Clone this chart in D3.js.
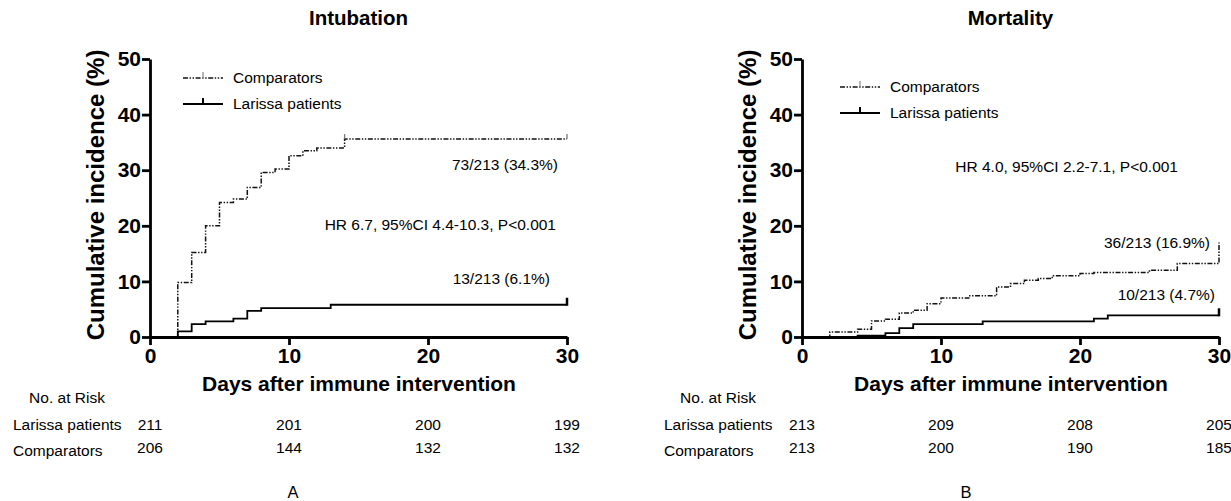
<!DOCTYPE html>
<html>
<head>
<meta charset="utf-8">
<script src="https://cdn.jsdelivr.net/npm/d3@7"></script>
<style>
  body { margin: 0; background: #fff; }
  svg { font-family: "Liberation Sans", Arial, sans-serif; }
</style>
</head>
<body>
<div id="chart"></div>
<script>
// ---- data ----
const xTicks = [0, 10, 20, 30];
const yTicks = [0, 10, 20, 30, 40, 50];
const seriesNames = ["Comparators", "Larissa patients"];

// [day, cumulative incidence %]
const intubComparators = [[0,0],[2,9.8],[3,15.2],[4,20.0],[5,24.2],[6,24.8],[7,26.9],[8,29.6],[9,30.2],[10,32.6],[11,33.5],[12,34.0],[14,35.6],[30,35.6]];
const intubLarissa = [[0,0],[2,1.0],[3,2.3],[4,2.8],[6,3.3],[7,4.7],[8,5.2],[13,5.8],[30,5.8]];
const mortComparators = [[0,0],[2,0.9],[4,1.4],[5,2.9],[6,3.2],[7,4.3],[8,4.8],[9,6.0],[10,7.0],[12,7.4],[14,9.0],[15,9.6],[16,10.2],[17,10.5],[18,11.0],[20,11.4],[21,11.6],[25,12.0],[27,13.2],[30,13.2],[30,17.0]];
const mortLarissa = [[0,0],[4,0.25],[6,0.7],[7,1.6],[8,2.3],[13,2.8],[21,3.3],[22,3.9],[30,3.9]];

// censor marks (days)
const intubComparatorsCensor = [14, 30];
const intubLarissaCensor = [30];
const mortComparatorsCensor = [];
const mortLarissaCensor = [30];

// numbers at risk at xTicks
const riskIntubLarissa = [211, 201, 200, 199];
const riskIntubComparators = [206, 144, 132, 132];
const riskMortLarissa = [213, 209, 208, 205];
const riskMortComparators = [213, 200, 190, 185];

const svg = d3.select("#chart").append("svg")
  .attr("width", 1231)
  .attr("height", 501);

const dashComp = "5,1.6,1.4,1.6,1.4,1.6";

function valueAt(data, day) {
  let v = 0;
  data.forEach(d => { if (d[0] <= day) v = d[1]; });
  return v;
}

function drawPanel(p) {
  const x = d3.scaleLinear().domain([0, 30]).range([p.x0, p.x0 + 417]);
  const y = d3.scaleLinear().domain([0, 50]).range([337, 59]);
  const g = svg.append("g");

  // title
  g.append("text")
    .attr("x", (p.x0 + p.x0 + 417) / 2).attr("y", 25)
    .attr("text-anchor", "middle")
    .attr("font-size", 20.5).attr("font-weight", "bold")
    .text(p.title);

  // curves
  const line = d3.line().x(d => x(d[0])).y(d => y(d[1])).curve(d3.curveStepAfter);
  g.append("path").datum(p.comp)
    .attr("d", line).attr("fill", "none")
    .attr("stroke", "#111").attr("stroke-width", 1.5)
    .attr("stroke-dasharray", dashComp);
  g.append("path").datum(p.lar)
    .attr("d", line).attr("fill", "none")
    .attr("stroke", "#000").attr("stroke-width", 1.8);

  // censor ticks
  p.compCensor.forEach(d => {
    g.append("line")
      .attr("x1", x(d)).attr("x2", x(d))
      .attr("y1", y(valueAt(p.comp, d))).attr("y2", y(valueAt(p.comp, d)) - 5)
      .attr("stroke", "#777").attr("stroke-width", 1.3);
  });
  p.larCensor.forEach(d => {
    g.append("line")
      .attr("x1", x(d)).attr("x2", x(d))
      .attr("y1", y(valueAt(p.lar, d)) + 1).attr("y2", y(valueAt(p.lar, d)) - 7)
      .attr("stroke", "#000").attr("stroke-width", 2.5);
  });

  // axes
  const yAxis = g.append("g")
    .attr("transform", `translate(${p.x0},0)`)
    .call(d3.axisLeft(y).tickValues(yTicks).tickSize(8).tickSizeOuter(0).tickPadding(1));
  const xAxis = g.append("g")
    .attr("transform", "translate(0,337)")
    .call(d3.axisBottom(x).tickValues(xTicks).tickSize(8).tickSizeOuter(0).tickPadding(3));
  [yAxis, xAxis].forEach(a => {
    a.select(".domain").attr("stroke-width", 2.8).attr("stroke", "#000");
    a.selectAll(".tick line").attr("stroke-width", 2.8).attr("stroke", "#000");
    a.selectAll(".tick text")
      .attr("font-size", 21).attr("font-weight", "bold")
      .attr("font-family", "Liberation Sans, Arial, sans-serif").attr("fill", "#000");
  });

  // axis titles
  g.append("text")
    .attr("transform", `translate(${p.x0 - 46},195) rotate(-90)`)
    .attr("text-anchor", "middle")
    .attr("font-size", 24).attr("font-weight", "bold")
    .text("Cumulative incidence (%)");
  g.append("text")
    .attr("x", p.x0 + 209).attr("y", 391)
    .attr("text-anchor", "middle")
    .attr("font-size", 21).attr("font-weight", "bold")
    .text("Days after immune intervention");

  // legend
  const lg = g.append("g").attr("transform", `translate(${p.legX},${p.legY})`);
  seriesNames.forEach((name, i) => {
    const yy = i * 26;
    lg.append("line")
      .attr("x1", 0).attr("x2", 40).attr("y1", yy).attr("y2", yy)
      .attr("stroke", i === 0 ? "#111" : "#000")
      .attr("stroke-width", i === 0 ? 1.5 : 1.8)
      .attr("stroke-dasharray", i === 0 ? dashComp : null);
    lg.append("line")
      .attr("x1", 20).attr("x2", 20).attr("y1", yy).attr("y2", yy - 6)
      .attr("stroke", i === 0 ? "#888" : "#000")
      .attr("stroke-width", i === 0 ? 1.2 : 2);
    lg.append("text")
      .attr("x", 50).attr("y", yy + 5)
      .attr("font-size", 15.5)
      .text(name);
  });

  // annotations
  p.notes.forEach(n => {
    g.append("text")
      .attr("x", n[1]).attr("y", n[2])
      .attr("text-anchor", "end")
      .attr("font-size", 15.5)
      .text(n[0]);
  });

  // number at risk table
  g.append("text")
    .attr("x", p.tabX + 54).attr("y", 403)
    .attr("text-anchor", "middle").attr("font-size", 15.5)
    .text("No. at Risk");
  g.append("text")
    .attr("x", p.tabX).attr("y", 430).attr("font-size", 15.5)
    .text("Larissa patients");
  g.append("text")
    .attr("x", p.tabX).attr("y", 456).attr("font-size", 15.5)
    .text("Comparators");
  xTicks.forEach((d, i) => {
    g.append("text")
      .attr("x", x(d)).attr("y", 430)
      .attr("text-anchor", "middle").attr("font-size", 15.5)
      .text(p.riskLar[i]);
    g.append("text")
      .attr("x", x(d)).attr("y", 453)
      .attr("text-anchor", "middle").attr("font-size", 15.5)
      .text(p.riskComp[i]);
  });

  // panel letter
  g.append("text")
    .attr("x", p.letterX).attr("y", 498)
    .attr("text-anchor", "middle").attr("font-size", 16.5)
    .text(p.letter);
}

drawPanel({
  x0: 150, title: "Intubation",
  comp: intubComparators, lar: intubLarissa,
  compCensor: intubComparatorsCensor, larCensor: intubLarissaCensor,
  legX: 183, legY: 78,
  notes: [["73/213 (34.3%)", 558, 170], ["HR 6.7, 95%CI 4.4-10.3, P<0.001", 556, 230], ["13/213 (6.1%)", 550, 284]],
  tabX: 13, riskLar: riskIntubLarissa, riskComp: riskIntubComparators,
  letter: "A", letterX: 293
});

drawPanel({
  x0: 802, title: "Mortality",
  comp: mortComparators, lar: mortLarissa,
  compCensor: mortComparatorsCensor, larCensor: mortLarissaCensor,
  legX: 840, legY: 87,
  notes: [["HR 4.0, 95%CI 2.2-7.1, P<0.001", 1178, 172], ["36/213 (16.9%)", 1210, 248], ["10/213 (4.7%)", 1215, 300]],
  tabX: 664, riskLar: riskMortLarissa, riskComp: riskMortComparators,
  letter: "B", letterX: 966
});
</script>
</body>
</html>
